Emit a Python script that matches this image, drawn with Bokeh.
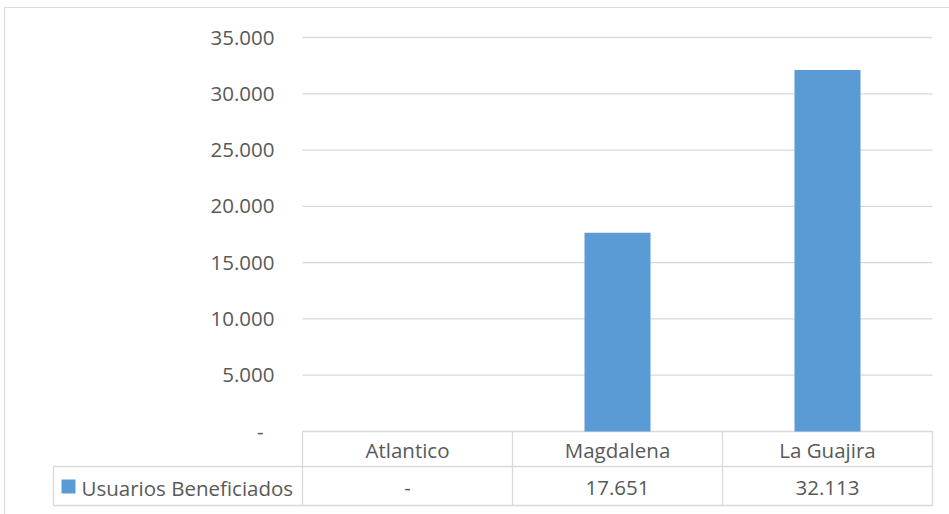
from bokeh.plotting import figure
from bokeh.models import Range1d
from bokeh.core.properties import value
from bokeh.embed import file_html
from bokeh.resources import INLINE

# ---- data ----
categories = ["Atlantico", "Magdalena", "La Guajira"]
series_name = "Usuarios Beneficiados"
usuarios = [0, 17651, 32113]
y_ticks = [0, 5000, 10000, 15000, 20000, 25000, 30000, 35000]


def fmt(v):
    return "-" if v == 0 else f"{v:,.0f}".replace(",", ".")


# ---- layout (pixels) ----
W, H = 949, 514
PX_LEFT, CAT_W = 302, 210
PY_ZERO, PY_TOP, Y_MAX = 431, 37, 35000
UPP = Y_MAX / (PY_ZERO - PY_TOP)


def xd(px):
    return (px - PX_LEFT) / CAT_W


def yd(py):
    return (PY_ZERO - py) * UPP


FONT = value("Open Sans")
FSIZE = value("20.5px")
TXT = "#595959"
LINE = "#d9d9d9"
BLUE = "#5b9bd5"
n_cat = len(categories)

p = figure(width=W, height=H, output_backend="svg", toolbar_location=None,
           x_range=Range1d(xd(0), xd(W)), y_range=Range1d(yd(H), yd(0)),
           x_axis_location=None, y_axis_location=None, min_border=0,
           outline_line_color=None, background_fill_color="white")
p.grid.visible = False

# outer chart border
p.quad(left=xd(4), right=xd(W + 20), bottom=yd(H + 20), top=yd(7),
       fill_color=None, line_color=LINE, line_width=1)

# gridlines
p.segment(x0=[0] * len(y_ticks), x1=[n_cat] * len(y_ticks), y0=y_ticks, y1=y_ticks,
          line_color=LINE, line_width=1.3)

# bars
xs = [i + 0.5 for i in range(n_cat)]
p.vbar(x=xs, top=usuarios, bottom=0, width=66 / CAT_W, fill_color=BLUE, line_color=None)

# y tick labels
p.text(x=[xd(263) if t == 0 else xd(274) for t in y_ticks], y=y_ticks,
       text=[fmt(t) for t in y_ticks], text_align="right", text_baseline="middle",
       text_font=FONT, text_font_size=FSIZE, text_color=TXT)

# data table lines
row_mid, row_bot, leg_left = 466, 505, 53
p.segment(x0=[xd(leg_left), xd(leg_left)], x1=[n_cat, n_cat],
          y0=[yd(row_mid), yd(row_bot)], y1=[yd(row_mid), yd(row_bot)],
          line_color=LINE, line_width=1.3)
vx = list(range(n_cat + 1))
p.segment(x0=vx, x1=vx, y0=[0] * len(vx), y1=[yd(row_bot)] * len(vx),
          line_color=LINE, line_width=1.3)
p.segment(x0=[xd(leg_left)], x1=[xd(leg_left)], y0=[yd(row_mid)], y1=[yd(row_bot)],
          line_color=LINE, line_width=1.3)

# table texts
p.text(x=xs, y=[yd(449)] * n_cat, text=categories, text_align="center",
       text_baseline="middle", text_font=FONT, text_font_size=FSIZE, text_color=TXT)
p.text(x=xs, y=[yd(487)] * n_cat, text=[fmt(v) for v in usuarios], text_align="center",
       text_baseline="middle", text_font=FONT, text_font_size=FSIZE, text_color=TXT)

# legend key
p.rect(x=[xd(68)], y=[yd(486)], width=14, height=14, width_units="screen",
       height_units="screen", fill_color=BLUE, line_color=None)
p.text(x=[xd(81)], y=[yd(487)], text=[series_name], text_align="left",
       text_baseline="middle", text_font=FONT, text_font_size=FSIZE, text_color=TXT)

open("out.html", "w").write(file_html(p, INLINE))
